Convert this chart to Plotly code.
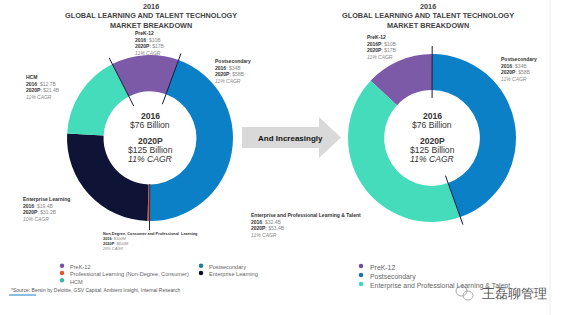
import math
import plotly.graph_objects as go

W, H = 564, 315

# ---------------- data ----------------
left_categories = ["PreK-12", "Postsecondary", "Professional Learning (Non-Degree, Consumer)",
                   "Enterprise Learning", "HCM"]
left_label_titles = ["PreK-12", "Postsecondary", "Non-Degree, Consumer and Professional  Learning",
                     "Enterprise Learning", "HCM"]
left_2016 = [10, 34, 0.3, 19.4, 12.7]
left_2016_text = ["$10B", "$34B", "$300M", "$19.4B", "$12.7B"]
left_2020_text = ["$17B", "$58B", "$800M", "$31.2B", "$21.4B"]
left_cagr = ["11% CAGR", "11% CAGR", "28% CAGR", "10% CAGR", "11% CAGR"]
left_colors = ["#7d5aa8", "#0b80c6", "#e8502f", "#0f1437", "#44dcbb"]

right_categories = ["PreK-12", "Postsecondary", "Enterprise and Professional Learning & Talent"]
right_2016 = [10, 34, 32.4]
right_2016_text = ["$10B", "$34B", "$32.4B"]
right_2016_key = ["2016P", "2016", "2016"]
right_2020_text = ["$17B", "$58B", "$53.4B"]
right_cagr = ["11% CAGR", "11% CAGR", "11% CAGR"]
right_colors = ["#7d5aa8", "#0b80c6", "#44dcbb"]

center_lines = ["<b>2016</b>", "$76 Billion", "<b>2020P</b>", "$125 Billion", "<i>11% CAGR</i>"]
title_lines = ["2016", "GLOBAL LEARNING AND TALENT TECHNOLOGY", "MARKET BREAKDOWN"]

legend_left_col1 = ["PreK-12", "Professional Learning (Non-Degree, Consumer)", "HCM"]
legend_left_col1_colors = ["#7b52ab", "#e4572e", "#3db8a5"]
legend_left_col2 = ["Postsecondary", "Enterprise Learning"]
legend_left_col2_colors = ["#1e7b9a", "#0b0b2b"]
legend_right = ["PreK-12", "Postsecondary", "Enterprise and Professional Learning & Talent"]
legend_right_colors = ["#6b4fa0", "#1479a8", "#3fd9b8"]

source_text = "*Source: Bersin by Deloitte, GSV Capital, Ambient Insight, Internal Research"

# ---------------- geometry ----------------
LC = (150, 138); LR = 83
RC = (432, 138); RR = 84
left_rotation = 333
right_rotation = 313

FONT = "Liberation Sans, Arial, sans-serif"

fig = go.Figure()


def dom(c, r):
    return dict(x=[(c[0] - r) / W, (c[0] + r) / W],
                y=[(H - c[1] - r) / H, (H - c[1] + r) / H])


fig.add_trace(go.Pie(labels=left_categories, values=left_2016, marker=dict(colors=left_colors, line=dict(width=0)),
                     hole=0.56, sort=False, direction="clockwise", rotation=left_rotation,
                     textinfo="none", hoverinfo="label+value", showlegend=False, domain=dom(LC, LR)))
fig.add_trace(go.Pie(labels=right_categories, values=right_2016, marker=dict(colors=right_colors, line=dict(width=0)),
                     hole=0.57, sort=False, direction="clockwise", rotation=right_rotation,
                     textinfo="none", hoverinfo="label+value", showlegend=False, domain=dom(RC, RR)))

# pixel-coordinate overlay axes
fig.update_layout(
    xaxis=dict(range=[0, W], visible=False, fixedrange=True, domain=[0, 1]),
    yaxis=dict(range=[H, 0], visible=False, fixedrange=True, domain=[0, 1]),
)

shapes = []
annotations = []


def boundary_angles(values, rotation):
    tot = sum(values)
    angs = []
    a = rotation
    for v in values:
        angs.append(a % 360)
        a += v / tot * 360
    return angs


def leader(center, r_in, r_out, ang, color="#15173a", width=1):
    t = math.radians(ang)
    x0 = center[0] + r_in * math.sin(t); y0 = center[1] - r_in * math.cos(t)
    x1 = center[0] + r_out * math.sin(t); y1 = center[1] - r_out * math.cos(t)
    shapes.append(dict(type="line", xref="x", yref="y", x0=x0, y0=y0, x1=x1, y1=y1,
                       line=dict(color=color, width=width)))


la = boundary_angles(left_2016, left_rotation)
leader(LC, 36, 90, la[0])
leader(LC, 36, 90, la[1])
leader(LC, 46, 92, la[2], color="#3a2030", width=1)
ra = boundary_angles(right_2016, right_rotation)
leader(RC, 40, 92, ra[1])
leader(RC, 40, 92, ra[2])


def text(x, y, s, size, color="#444", xanchor="left", yanchor="middle", align="left"):
    annotations.append(dict(x=x, y=y, xref="x", yref="y", text=s, showarrow=False,
                            xanchor=xanchor, yanchor=yanchor, align=align,
                            font=dict(family=FONT, size=size, color=color)))


def label_block(x, y0, title, key16, v16, v20, cagr, size=5.0):
    s = ("<b>%s</b><br><b>%s</b>: <span style='color:#888'>%s</span><br>"
         "<b>2020P</b>: <span style='color:#888'>%s</span><br><span style='color:#888'><i>%s</i></span>"
         % (title, key16, v16, v20, cagr))
    text(x, y0 - 0.65 * size - 1, s, size, "#333", yanchor="top")


# left labels
left_pos = [(133, 32), (213, 60), (100, 233), (21, 198), (24, 76)]
for i, (x, y) in enumerate(left_pos):
    label_block(x, y, left_label_titles[i], "2016", left_2016_text[i], left_2020_text[i], left_cagr[i],
                size=3.9 if i == 2 else 5.0)
# right labels
right_pos = [(365, 36), (499, 58), (249, 214)]
for i, (x, y) in enumerate(right_pos):
    label_block(x, y, right_categories[i], right_2016_key[i], right_2016_text[i], right_2020_text[i],
                right_cagr[i])

# titles
for cx in (151, 428):
    text(cx, 0, "<br>".join("<b>%s</b>" % s for s in title_lines), 7.3, "#444",
         xanchor="center", yanchor="top", align="center")

# centre text
for c in (LC, RC):
    for s, y in zip(center_lines, (116, 124.5, 141, 150, 158.5)):
        text(c[0], y, s, 8.6, "#333", xanchor="center", align="center")

# arrow
shapes.append(dict(type="path", xref="x", yref="y",
                   path="M 242 127 L 319 127 L 319 117 L 341 137.5 L 319 158 L 319 148 L 242 148 Z",
                   fillcolor="#d9d9d9", line=dict(width=0), layer="below"))
text(290, 138, "<b>And Increasingly</b>", 8, "#111", xanchor="center", align="center")

# right page edge line
shapes.append(dict(type="line", xref="x", yref="y", x0=550, x1=550, y0=0, y1=H,
                   line=dict(color="#ececec", width=1)))

# legends (markers as scatter, text as annotations)
mx, my, mc = [], [], []
for i, (s, c) in enumerate(zip(legend_left_col1, legend_left_col1_colors)):
    mx.append(62); my.append(265.7 + i * 7.3); mc.append(c)
for i, (s, c) in enumerate(zip(legend_left_col2, legend_left_col2_colors)):
    mx.append(201); my.append(265.7 + i * 7.3); mc.append(c)
text(68, 262, "<br>".join(legend_left_col1), 5.6, "#666", yanchor="top")
text(207, 262, "<br>".join(legend_left_col2), 5.6, "#666", yanchor="top")
for i, (s, c) in enumerate(zip(legend_right, legend_right_colors)):
    mx.append(361); my.append(266 + i * 9); mc.append(c)
text(368, 261.5, "<br>".join(legend_right), 6.9, "#666", yanchor="top")
fig.add_trace(go.Scatter(x=mx, y=my, mode="markers", marker=dict(color=mc, size=4.5),
                         hoverinfo="skip", showlegend=False))

# source
text(9, 290, source_text, 5, "#555")
shapes.append(dict(type="line", xref="x", yref="y", x0=9, x1=36, y0=295, y1=295,
                   line=dict(color="#1a7fc4", width=1)))

# watermark
text(480, 294, "王磊聊管理", 12.5, "#555")
shapes.append(dict(type="circle", xref="x", yref="y", x0=456, x1=467, y0=286, y1=296,
                   line=dict(color="#aaa", width=1)))
shapes.append(dict(type="circle", xref="x", yref="y", x0=463, x1=473, y0=291, y1=300,
                   line=dict(color="#aaa", width=1)))

fig.update_layout(width=W, height=H, margin=dict(l=0, r=0, t=0, b=0),
                  paper_bgcolor="white", plot_bgcolor="white",
                  shapes=shapes, annotations=annotations, showlegend=False)

fig.write_html("out.html")
